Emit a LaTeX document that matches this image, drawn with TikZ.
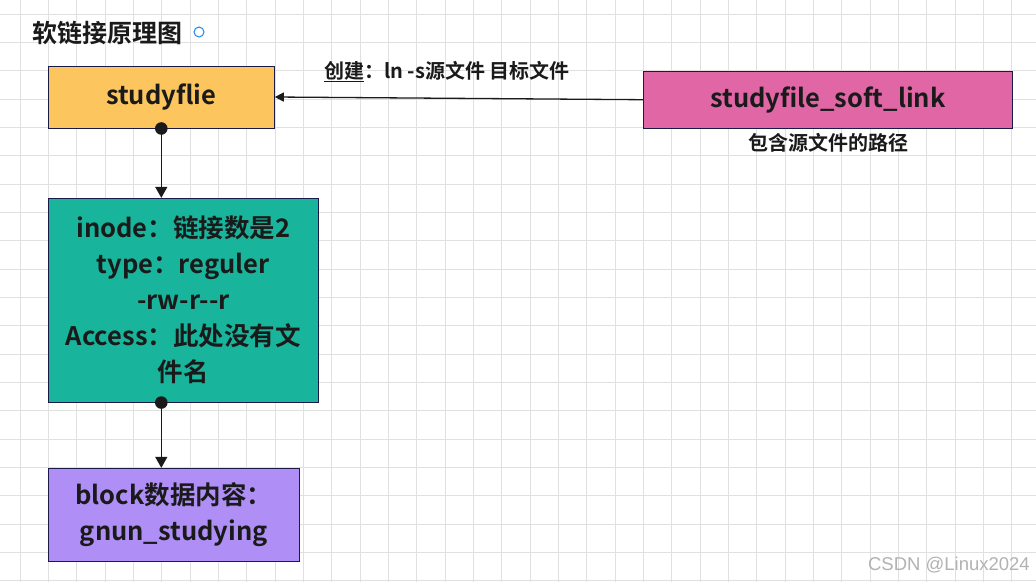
\documentclass[tikz,border=0pt]{standalone}
\usepackage{fontspec}
\setmainfont{Noto Sans CJK SC}[BoldFont={Noto Sans CJK SC Bold}]
\newfontfamily\wmfont{Liberation Sans}
\usetikzlibrary{arrows.meta}
\definecolor{gridc}{HTML}{E0E0E0}
\definecolor{bordc}{HTML}{1A1A46}
\definecolor{txtc}{HTML}{1A1A1A}
\definecolor{fliec}{HTML}{FDC55E}
\definecolor{softc}{HTML}{E066A6}
\definecolor{inodec}{HTML}{18B49B}
\definecolor{blockc}{HTML}{AF8FF5}
\definecolor{dotblue}{HTML}{1E88F0}
\tikzset{
  boxnode/.style={draw=bordc, line width=1pt, inner sep=0pt, align=center, text=txtc,
    font=\bfseries\fontsize{25.5}{36}\selectfont},
  lbl/.style={inner sep=0pt, text=txtc, font=\bfseries\fontsize{20}{24}\selectfont},
  conn/.style={draw=txtc, line width=1.3pt},
  dotc/.style={fill=txtc},
}
\begin{document}
\begin{tikzpicture}[x=1pt,y=-1pt]
\useasboundingbox (0,0) rectangle (1036,582);
\fill[white] (0,0) rectangle (1036,582);
% grid
\foreach \k in {0,...,35} {\draw[gridc, line width=1pt] ({20+28.333*\k},0) -- ({20+28.333*\k},582);}
\foreach \k in {0,...,20} {\draw[gridc, line width=1pt] (0,{14+28.333*\k}) -- (1036,{14+28.333*\k});}
% title
\node[lbl, anchor=base west, font=\bfseries\fontsize{25}{30}\selectfont] (title) at (32,42) {软链接原理图};
\node[draw=dotblue, line width=1pt, circle, minimum size=10pt, inner sep=0pt] (tdot) at (199,32) {};
% boxes
\node[boxnode, fill=fliec, minimum width=226pt, minimum height=62pt] (flie) at (161.3,97) {studyflie};
\node[boxnode, fill=softc, minimum width=369.4pt, minimum height=57.3pt] (soft) at (828,99.7) {studyfile\_soft\_link};
\node[boxnode, fill=inodec, minimum width=270pt, minimum height=203.7pt] (inode) at (183.3,300.2)
  {inode：链接数是2\\type：reguler\\-rw-r-{}-r\\Access：此处没有文\\件名};
\node[boxnode, fill=blockc, minimum width=251pt, minimum height=92.7pt] (block) at (173.8,514.7)
  {block数据内容：\\gnun\_studying};
% labels
\node[lbl, anchor=base west] (mk) at (324,78) {\underline{创建}：ln -s源文件 目标文件};
\node[lbl, anchor=base] (path) at (828,150.5) {包含源文件的路径};
% connector points
\coordinate (p1) at (flie.south);
\coordinate (p2) at (p1 |- inode.north);
\coordinate (p3) at (p1 |- inode.south);
\coordinate (p4) at (p1 |- block.north);
% connectors
\draw[conn, -{Triangle[width=9pt,length=9pt]}] (soft.west) -- (flie.east);
\draw[conn, -{Triangle[width=12pt,length=11pt]}] (p1) -- (p2);
\draw[conn, -{Triangle[width=12pt,length=11pt]}] (p3) -- (p4);
\fill[dotc] (p1) circle (6.3pt);
\fill[dotc] (p3) circle (6.3pt);
% watermark
\node[anchor=base east, inner sep=0pt, text=black!30, font=\wmfont\fontsize{18.5}{20}\selectfont] (wm) at (1030,570) {CSDN @Linux2024};
\end{tikzpicture}
\end{document}
